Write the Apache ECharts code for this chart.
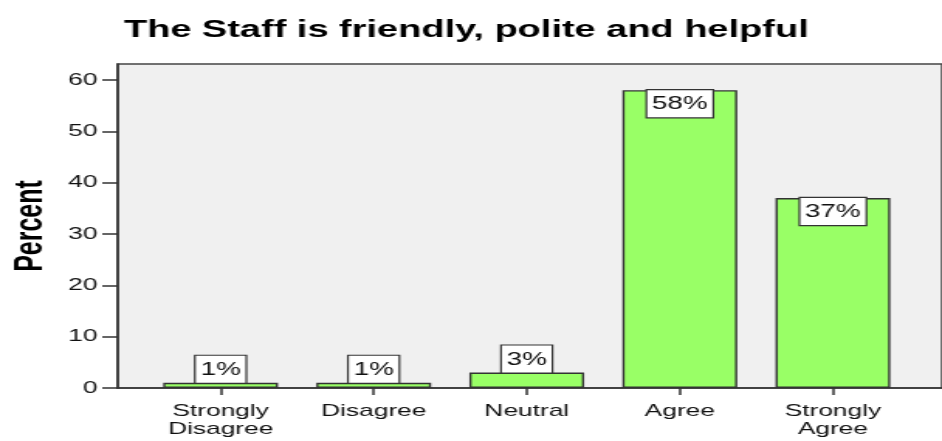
<!DOCTYPE html>
<html><head><meta charset="utf-8">
<script src="https://cdn.jsdelivr.net/npm/echarts@6/dist/echarts.min.js"></script>
<style>
html,body{margin:0;padding:0;background:#fff;overflow:hidden;}
#wrap{width:942px;height:441px;overflow:hidden;}
#chart{width:608px;height:441px;transform:scaleX(1.5493);transform-origin:0 0;}
</style></head><body><div id="wrap"><div id="chart"></div></div>
<script>
const titleText = 'The Staff is friendly, polite and helpful';
const yAxisName = 'Percent';
const categories = ['Strongly\nDisagree', 'Disagree', 'Neutral', 'Agree', 'Strongly\nAgree'];
const percentValues = [1, 1, 3, 58, 37];
const yTicks = [0, 10, 20, 30, 40, 50, 60];
const yMax = 63.1;

const FONT = '"Liberation Sans", Arial, sans-serif';
const dark = '#333';

const barData = percentValues.map(v => ({
  value: v,
  label: { position: v < 10 ? 'top' : 'insideTop' }
}));

const chart = echarts.init(document.getElementById('chart'), null, { renderer: 'canvas' });
chart.setOption({
  backgroundColor: '#fff',
  animation: false,
  textStyle: { fontFamily: FONT },
  title: {
    text: titleText, left: 75, top: 13,
    textStyle: { fontFamily: FONT, fontSize: 24.5, fontWeight: 'bold', color: '#000' }
  },
  grid: [
    { left: 65, right: -3, top: 64, bottom: 53, show: true, backgroundColor: '#f0f0f0', borderColor: '#444', borderWidth: 1.5 },
    { left: 93, right: 21, top: 64, bottom: 53 }
  ],
  xAxis: [
    { gridIndex: 0, type: 'value', min: 0, max: 1,
      axisLine: { show: true, onZero: false, lineStyle: { color: dark, width: 1.5 } },
      axisTick: { show: false }, axisLabel: { show: false }, splitLine: { show: false } },
    { gridIndex: 1, type: 'category', data: categories,
      axisLine: { show: false },
      axisTick: { show: true, alignWithLabel: true, length: 7, lineStyle: { color: dark, width: 1.5 } },
      axisLabel: { fontFamily: FONT, fontSize: 17, lineHeight: 18, color: '#111', margin: 14, interval: 0 },
      splitLine: { show: false } }
  ],
  yAxis: [
    { gridIndex: 0, type: 'value', min: 0, max: yMax,
      name: yAxisName, nameLocation: 'middle', nameGap: 43,
      nameTextStyle: { fontFamily: FONT, fontSize: 25, fontWeight: 'bold', color: '#000' },
      axisLine: { show: true, lineStyle: { color: dark, width: 1.5 } },
      axisTick: { show: true, length: 10, customValues: yTicks, lineStyle: { color: dark, width: 1.5 } },
      axisLabel: { customValues: yTicks, margin: 13, fontFamily: FONT, fontSize: 17, color: '#111' },
      splitLine: { show: false } },
    { gridIndex: 1, type: 'value', min: 0, max: yMax, show: false, splitLine: { show: false } }
  ],
  series: [{
    type: 'bar', xAxisIndex: 1, yAxisIndex: 1,
    barWidth: '75%',
    data: barData,
    itemStyle: { color: '#99ff66', borderColor: dark, borderWidth: 1.4 },
    label: {
      show: true, distance: 0,
      formatter: p => Math.round(p.value) + '%',
      fontFamily: FONT, fontSize: 18, color: '#111',
      backgroundColor: '#fff', borderColor: dark, borderWidth: 1.2,
      padding: [5, 3, 4, 3]
    }
  }]
});
</script></body></html>
